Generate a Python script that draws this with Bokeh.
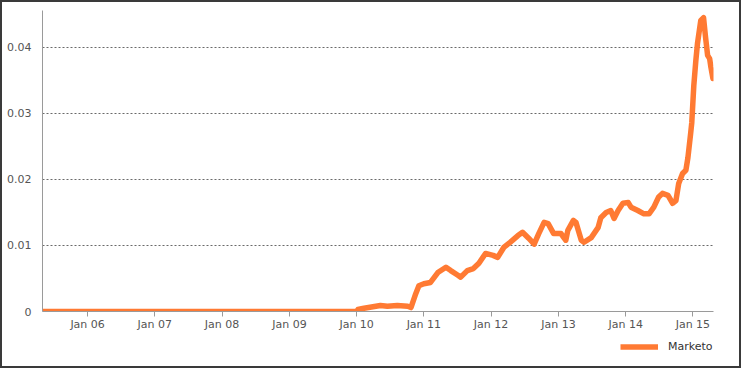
import pandas as pd
from bokeh.plotting import figure
from bokeh.layouts import column
from bokeh.models import (ColumnDataSource, FixedTicker, Legend, LegendItem,
                          DatetimeTickFormatter, Range1d)
from bokeh.embed import file_html
from bokeh.resources import INLINE

# ---- data ----
series_name = "Marketo"
dates = [
    "2005-05-01", "2006-06-01", "2007-06-01", "2008-06-01", "2009-06-01", "2009-12-31",
    "2010-01-08", "2010-02-10", "2010-05-10", "2010-06-17", "2010-08-10", "2010-10-05",
    "2010-10-23", "2010-11-18", "2010-12-05", "2011-01-01", "2011-02-06", "2011-03-18",
    "2011-05-01", "2011-05-27", "2011-07-05", "2011-07-20", "2011-08-25", "2011-09-27",
    "2011-10-27", "2011-12-02", "2012-01-12", "2012-02-06", "2012-03-10", "2012-04-15",
    "2012-05-26", "2012-06-20", "2012-07-23", "2012-08-22", "2012-09-16", "2012-10-15",
    "2012-11-06", "2012-12-06", "2013-01-15", "2013-01-30", "2013-02-10", "2013-02-21",
    "2013-03-23", "2013-04-06", "2013-05-05", "2013-05-20", "2013-06-28", "2013-08-04",
    "2013-08-19", "2013-09-17", "2013-10-12", "2013-10-30", "2013-11-21", "2013-12-17",
    "2014-01-15", "2014-01-30", "2014-03-08", "2014-04-10", "2014-05-08", "2014-06-03",
    "2014-06-28", "2014-07-20", "2014-08-19", "2014-09-13", "2014-10-01", "2014-10-16",
    "2014-11-06", "2014-11-24", "2014-12-05", "2014-12-20", "2014-12-26", "2015-01-06",
    "2015-01-17", "2015-01-26", "2015-02-13", "2015-02-28", "2015-03-11", "2015-03-22",
    "2015-04-02", "2015-04-09", "2015-04-20",
]
values = [
    0.0, 0.0, 0.0, 0.0, 0.0, 0.0,
    0.0003, 0.0005, 0.0009, 0.0008, 0.0009, 0.0008,
    0.0006, 0.0027, 0.0039, 0.0042, 0.0044, 0.0059,
    0.0067, 0.0062, 0.0055, 0.0052, 0.0062, 0.0065,
    0.0073, 0.0088, 0.0085, 0.0082, 0.0097, 0.0105,
    0.0115, 0.0120, 0.0111, 0.0102, 0.0118, 0.0135,
    0.0133, 0.0118, 0.0118, 0.0112, 0.0108, 0.0123,
    0.0138, 0.0135, 0.0108, 0.0105, 0.0112, 0.0127,
    0.0142, 0.0150, 0.0153, 0.0141, 0.0153, 0.0164,
    0.0165, 0.0158, 0.0153, 0.0148, 0.0148, 0.0158,
    0.0173, 0.0179, 0.0176, 0.0164, 0.0168, 0.0194,
    0.0209, 0.0214, 0.0233, 0.0270, 0.0286, 0.0342,
    0.0380, 0.0406, 0.0441, 0.0445, 0.0415, 0.0388,
    0.0383, 0.0370, 0.0353,
]
x_tick_dates = ["2006-01-01", "2007-01-01", "2008-01-01", "2009-01-01", "2010-01-01",
                "2011-01-01", "2012-01-01", "2013-01-01", "2014-01-01", "2015-01-01"]
y_ticks = [0, 0.01, 0.02, 0.03, 0.04]
y_tick_labels = ["0", "0.01", "0.02", "0.03", "0.04"]
x_start, x_end = "2005-05-01", "2015-04-23"
y_start, y_end = 0, 0.0456

FONT = "DejaVu Sans"
ORANGE = "#FF7A33"
LINE_W = 5.5

src = ColumnDataSource(dict(x=pd.to_datetime(dates), y=values))

def ms(d):
    return pd.Timestamp(d).value / 1e6

p = figure(width=737, height=335, x_axis_type="datetime",
           output_backend="svg", toolbar_location=None,
           x_range=Range1d(ms(x_start), ms(x_end)),
           y_range=Range1d(y_start, y_end),
           min_border_left=40, min_border_top=8, min_border_right=26,
           min_border_bottom=26)
p.outline_line_color = None
p.background_fill_color = "white"
p.border_fill_color = "white"

r = p.line("x", "y", source=src, line_color=ORANGE, line_width=LINE_W,
           line_join="round", line_cap="round")

# x axis
p.xaxis.ticker = FixedTicker(ticks=[ms(d) for d in x_tick_dates])
fmt = "%b %y"
p.xaxis.formatter = DatetimeTickFormatter(
    milliseconds=fmt, seconds=fmt, minsec=fmt, minutes=fmt, hourmin=fmt,
    hours=fmt, days=fmt, months=fmt, years=fmt)
p.xaxis.axis_line_color = "#9a9a9a"
p.xaxis.major_tick_line_color = "#9a9a9a"
p.xaxis.major_tick_out = 5
p.xaxis.major_tick_in = 0
p.xaxis.minor_tick_line_color = None
p.xaxis.major_label_text_font = FONT
p.xaxis.major_label_text_font_size = "11px"
p.xaxis.major_label_text_color = "#555555"
p.xaxis.major_label_standoff = 1

# y axis
p.yaxis.ticker = FixedTicker(ticks=y_ticks)
p.yaxis.major_label_overrides = {t: l for t, l in zip(y_ticks, y_tick_labels)}
p.yaxis.axis_line_color = "#9a9a9a"
p.yaxis.major_tick_line_color = None
p.yaxis.minor_tick_line_color = None
p.yaxis.major_label_text_font = FONT
p.yaxis.major_label_text_font_size = "11px"
p.yaxis.major_label_text_color = "#555555"
p.yaxis.major_label_standoff = 5

p.xgrid.grid_line_color = None
p.ygrid.grid_line_color = "#6a6a6a"
p.ygrid.grid_line_dash = "2 2"
p.ygrid.grid_line_width = 1

# legend strip below the chart (its frame is aligned with the chart's frame)
lf = figure(width=737, height=29, output_backend="svg", toolbar_location=None,
            x_range=Range1d(0, 1), y_range=Range1d(0, 1),
            x_axis_location=None, y_axis_location=None,
            min_border=0)
lf.grid.visible = False
lf.outline_line_color = None
lf.border_fill_color = "white"
proxy = ColumnDataSource(dict(x=[float("nan")], y=[float("nan")]))
lr = lf.line("x", "y", source=proxy, line_color=ORANGE, line_width=LINE_W)
legend = Legend(items=[LegendItem(label=series_name, renderers=[lr])],
                location=(578, 10), orientation="horizontal",
                glyph_width=38, glyph_height=19, label_standoff=10,
                padding=0, margin=0, spacing=0,
                border_line_color=None, background_fill_alpha=0,
                label_text_font=FONT, label_text_font_size="11px",
                label_text_color="#333333")
lf.add_layout(legend)

layout = column(p, lf, spacing=0)
layout.styles = {"border": "2px solid #3a3a3a"}

open("out.html", "w").write(file_html(layout, INLINE))
